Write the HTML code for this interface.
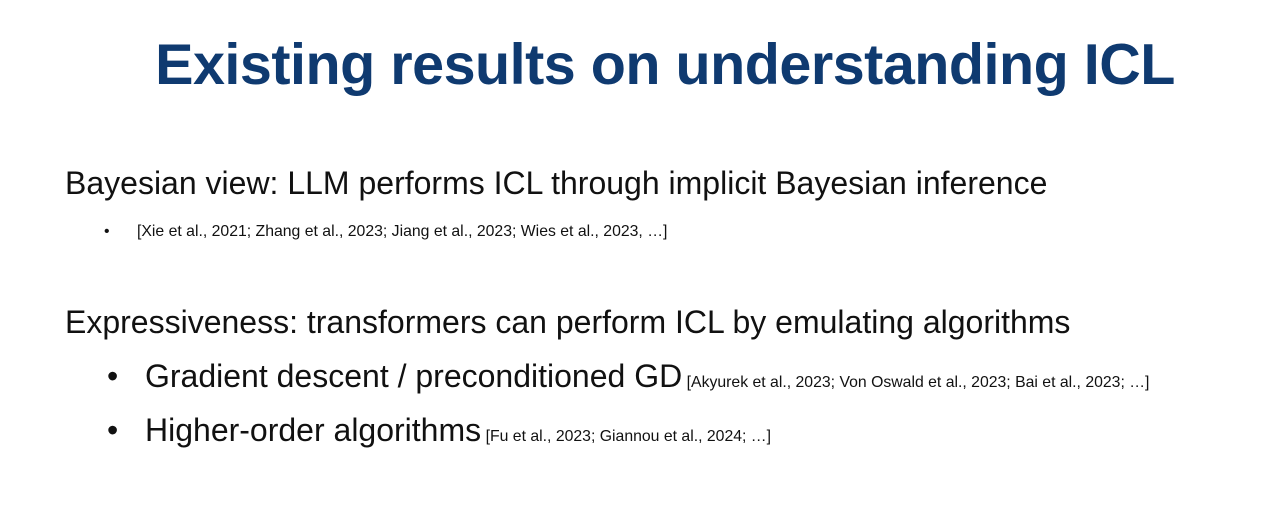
<!DOCTYPE html>
<html>
<head>
<meta charset="utf-8">
<style>
  html, body { margin:0; padding:0; }
  body { width:1270px; height:519px; background:#ffffff; position:relative; overflow:hidden;
         font-family:"Liberation Sans", Arial, sans-serif; color:#111; }
  .abs { position:absolute; white-space:nowrap; }
  #title { left:0; width:1330px; top:32px; text-align:center; font-size:57.5px; font-weight:bold;
           color:#0f3a70; letter-spacing:-0.5px; }
  .big { font-size:32px; }
  .small { font-size:15.8px; }
</style>
</head>
<body>
  <div id="title" class="abs">Existing results on understanding ICL</div>

  <div class="abs big" style="left:65px; top:165px;">Bayesian view: LLM performs ICL through implicit Bayesian inference</div>
  <div class="abs small" style="left:104px; top:223px;">•</div>
  <div class="abs small" style="left:137px; top:223px;">[Xie et al., 2021; Zhang et al., 2023; Jiang et al., 2023; Wies et al., 2023, …]</div>

  <div class="abs big" style="left:65px; top:304px;">Expressiveness: transformers can perform ICL by emulating algorithms</div>

  <div class="abs big" style="left:107px; top:358px;">•</div>
  <div class="abs" style="left:145px; top:358px;"><span class="big">Gradient descent / preconditioned GD</span> <span class="small">[Akyurek et al., 2023; Von Oswald et al., 2023; Bai et al., 2023; …]</span></div>

  <div class="abs big" style="left:107px; top:412px;">•</div>
  <div class="abs" style="left:145px; top:412px;"><span class="big">Higher-order algorithms</span> <span class="small">[Fu et al., 2023; Giannou et al., 2024; …]</span></div>
</body>
</html>
